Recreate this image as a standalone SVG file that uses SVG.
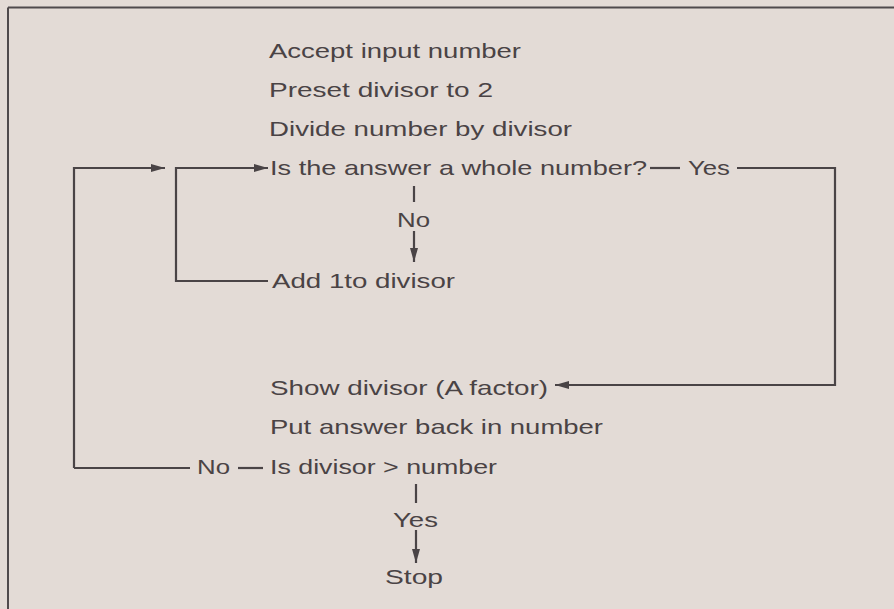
<svg xmlns="http://www.w3.org/2000/svg" width="894" height="609" viewBox="0 0 894 609">
<defs>
<marker id="ah" viewBox="0 0 14 8" refX="14" refY="4" markerWidth="14" markerHeight="8" markerUnits="userSpaceOnUse" orient="auto">
<path d="M0,0 L14,4 L0,8 Z" fill="#4a4446"/>
</marker>
<style>
text{font-family:"Liberation Sans","Helvetica",Arial,sans-serif;font-size:21px;fill:#4a4345}
.ln{fill:none;stroke:#4a4446;stroke-width:2.2}
.ar{fill:none;stroke:#4a4446;stroke-width:2.2;marker-end:url(#ah)}
</style>
</defs>
<rect x="0" y="0" width="894" height="609" fill="#e3dbd6"/>
<path d="M8,7.5 H894 M8,7.5 V609" fill="none" stroke="#4f4a4c" stroke-width="2"/>
<g id="connectors">
<path class="ar" d="M74,468 V168 H165"/>
<path class="ar" d="M268,281 H176 V168 H268"/>
<path class="ln" d="M650,168 H680"/>
<path class="ar" d="M737,168 H835 V385 H555"/>
<path class="ln" d="M414,186 V202"/>
<path class="ar" d="M414,231 V262"/>
<path class="ln" d="M190,468 H74"/>
<path class="ln" d="M238,468 H263"/>
<path class="ln" d="M416,484 V503"/>
<path class="ar" d="M416,530 V563"/>
</g>
<g id="n1"><text x="269" y="58" textLength="252" lengthAdjust="spacingAndGlyphs">Accept input number</text></g>
<g id="n2"><text x="269" y="97" textLength="224" lengthAdjust="spacingAndGlyphs">Preset divisor to 2</text></g>
<g id="n3"><text x="269" y="136" textLength="303" lengthAdjust="spacingAndGlyphs">Divide number by divisor</text></g>
<g id="n4"><text x="270" y="175" textLength="377" lengthAdjust="spacingAndGlyphs">Is the answer a whole number?</text><text x="688" y="175" textLength="42" lengthAdjust="spacingAndGlyphs">Yes</text><text x="397" y="227" textLength="33" lengthAdjust="spacingAndGlyphs">No</text></g>
<g id="n5"><text x="272" y="288" textLength="183" lengthAdjust="spacingAndGlyphs">Add 1to divisor</text></g>
<g id="n6"><text x="270" y="395" textLength="278" lengthAdjust="spacingAndGlyphs">Show divisor (A factor)</text></g>
<g id="n7"><text x="270" y="434" textLength="333" lengthAdjust="spacingAndGlyphs">Put answer back in number</text></g>
<g id="n8"><text x="270" y="474" textLength="227" lengthAdjust="spacingAndGlyphs">Is divisor &gt; number</text><text x="197" y="474" textLength="33" lengthAdjust="spacingAndGlyphs">No</text><text x="393" y="527" textLength="45" lengthAdjust="spacingAndGlyphs">Yes</text></g>
<g id="n9"><text x="385" y="584" textLength="58" lengthAdjust="spacingAndGlyphs">Stop</text></g>
</svg>
